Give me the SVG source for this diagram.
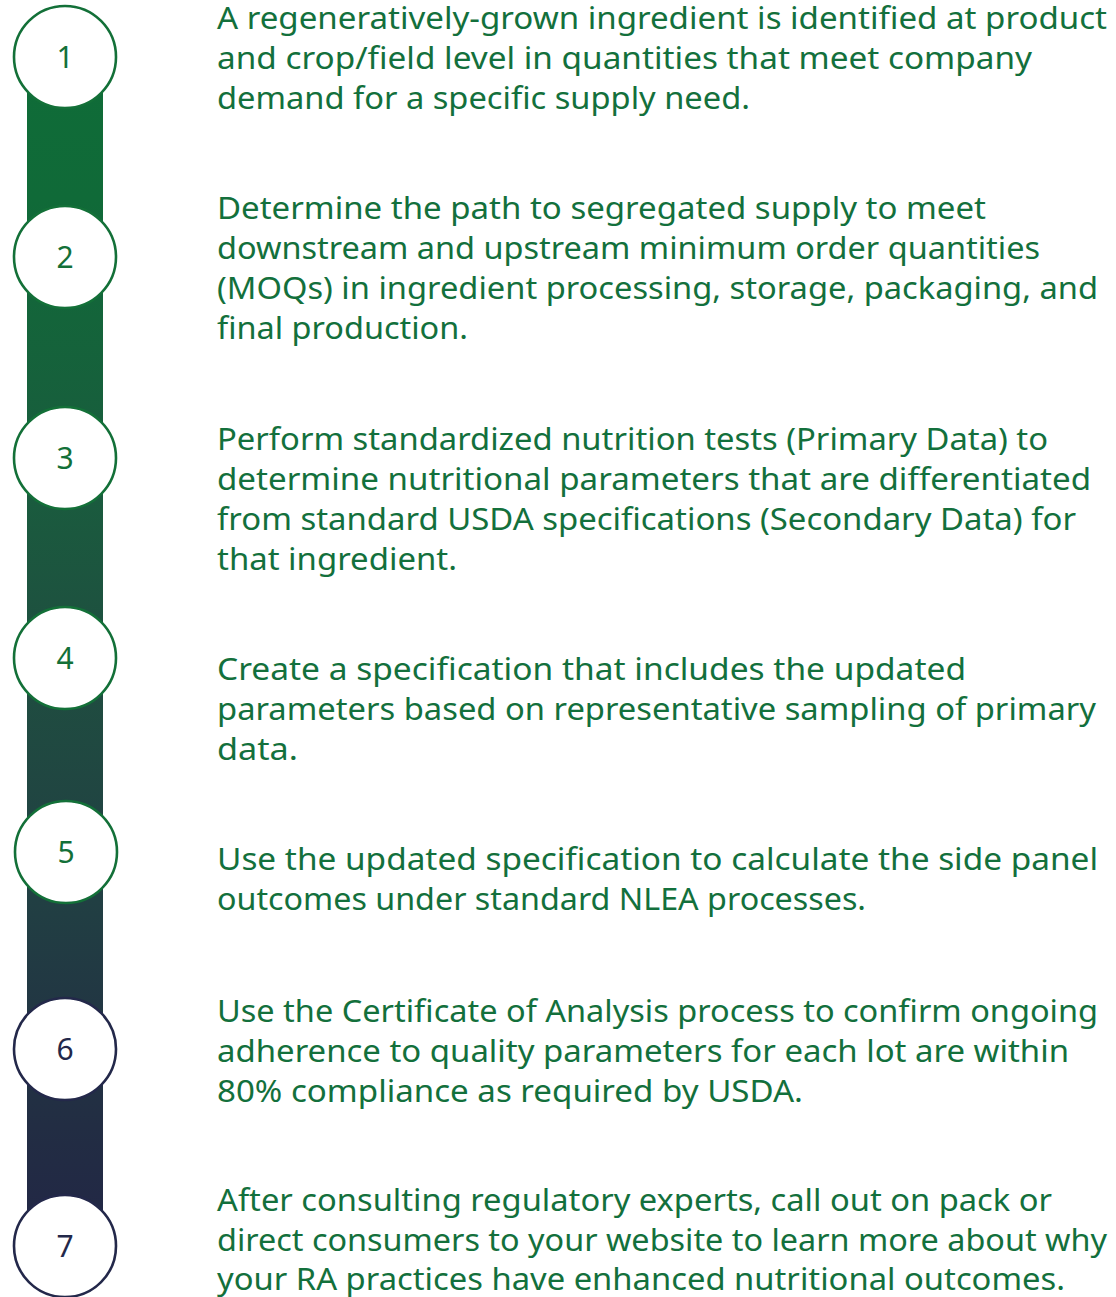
<svg xmlns="http://www.w3.org/2000/svg" width="1116" height="1297" viewBox="0 0 1116 1297">
  <defs>
    <linearGradient id="barGrad" x1="0" y1="57" x2="0" y2="1246" gradientUnits="userSpaceOnUse">
      <stop offset="0" stop-color="#0f6c38"/>
      <stop offset="0.12" stop-color="#106a38"/>
      <stop offset="0.37" stop-color="#1a5b3e"/>
      <stop offset="0.52" stop-color="#1f4d40"/>
      <stop offset="0.70" stop-color="#214043"/>
      <stop offset="0.90" stop-color="#222d43"/>
      <stop offset="1" stop-color="#222646"/>
    </linearGradient>
    <style>
      .step circle { fill: #ffffff; stroke-width: 2.6; }
      .green circle { stroke: #137038; }
      .navy circle { stroke: #23284a; }
      .num { font-family: "Noto Sans", "Liberation Sans", sans-serif; font-size: 30px; text-anchor: middle; }
      .green .num { fill: #137038; }
      .navy .num { fill: #23284a; }
      .desc { font-family: "Noto Sans", "Liberation Sans", sans-serif; font-size: 30px; fill: #13703c; }
    </style>
  </defs>

  <!-- vertical timeline bar -->
  <g id="connectors">
    <rect x="27" y="57" width="76" height="1189" fill="url(#barGrad)"/>
  </g>

  <g id="step1" class="step green">
    <circle cx="65" cy="57" r="51"/>
    <text class="num" x="65" y="68">1</text>
    <text class="desc" x="217" y="29" textLength="890" lengthAdjust="spacingAndGlyphs">A regeneratively-grown ingredient is identified at product</text>
    <text class="desc" x="217" y="69" textLength="815" lengthAdjust="spacingAndGlyphs">and crop/field level in quantities that meet company</text>
    <text class="desc" x="217" y="109" textLength="533" lengthAdjust="spacingAndGlyphs">demand for a specific supply need.</text>
  </g>

  <g id="step2" class="step green">
    <circle cx="65" cy="257" r="51"/>
    <text class="num" x="65" y="268">2</text>
    <text class="desc" x="217" y="219" textLength="769" lengthAdjust="spacingAndGlyphs">Determine the path to segregated supply to meet</text>
    <text class="desc" x="217" y="259" textLength="823" lengthAdjust="spacingAndGlyphs">downstream and upstream minimum order quantities</text>
    <text class="desc" x="217" y="299" textLength="881" lengthAdjust="spacingAndGlyphs">(MOQs) in ingredient processing, storage, packaging, and</text>
    <text class="desc" x="217" y="339" textLength="251" lengthAdjust="spacingAndGlyphs">final production.</text>
  </g>

  <g id="step3" class="step green">
    <circle cx="65" cy="458" r="51"/>
    <text class="num" x="65" y="469">3</text>
    <text class="desc" x="217" y="450" textLength="831" lengthAdjust="spacingAndGlyphs">Perform standardized nutrition tests (Primary Data) to</text>
    <text class="desc" x="217" y="490" textLength="874" lengthAdjust="spacingAndGlyphs">determine nutritional parameters that are differentiated</text>
    <text class="desc" x="217" y="530" textLength="859" lengthAdjust="spacingAndGlyphs">from standard USDA specifications (Secondary Data) for</text>
    <text class="desc" x="217" y="570" textLength="240" lengthAdjust="spacingAndGlyphs">that ingredient.</text>
  </g>

  <g id="step4" class="step green">
    <circle cx="65" cy="658" r="51"/>
    <text class="num" x="65" y="669">4</text>
    <text class="desc" x="217" y="680" textLength="749" lengthAdjust="spacingAndGlyphs">Create a specification that includes the updated</text>
    <text class="desc" x="217" y="720" textLength="879" lengthAdjust="spacingAndGlyphs">parameters based on representative sampling of primary</text>
    <text class="desc" x="217" y="760" textLength="81" lengthAdjust="spacingAndGlyphs">data.</text>
  </g>

  <g id="step5" class="step green">
    <circle cx="66" cy="852" r="51"/>
    <text class="num" x="66" y="863">5</text>
    <text class="desc" x="217" y="870" textLength="881" lengthAdjust="spacingAndGlyphs">Use the updated specification to calculate the side panel</text>
    <text class="desc" x="217" y="910" textLength="649" lengthAdjust="spacingAndGlyphs">outcomes under standard NLEA processes.</text>
  </g>

  <g id="step6" class="step navy">
    <circle cx="65" cy="1049" r="51"/>
    <text class="num" x="65" y="1060">6</text>
    <text class="desc" x="217" y="1022" textLength="881" lengthAdjust="spacingAndGlyphs">Use the Certificate of Analysis process to confirm ongoing</text>
    <text class="desc" x="217" y="1062" textLength="852" lengthAdjust="spacingAndGlyphs">adherence to quality parameters for each lot are within</text>
    <text class="desc" x="217" y="1102" textLength="586" lengthAdjust="spacingAndGlyphs">80% compliance as required by USDA.</text>
  </g>

  <g id="step7" class="step navy">
    <circle cx="65" cy="1246" r="51"/>
    <text class="num" x="65" y="1257">7</text>
    <text class="desc" x="217" y="1211" textLength="835" lengthAdjust="spacingAndGlyphs">After consulting regulatory experts, call out on pack or</text>
    <text class="desc" x="217" y="1251" textLength="890" lengthAdjust="spacingAndGlyphs">direct consumers to your website to learn more about why</text>
    <text class="desc" x="217" y="1290" textLength="848" lengthAdjust="spacingAndGlyphs">your RA practices have enhanced nutritional outcomes.</text>
  </g>
</svg>
